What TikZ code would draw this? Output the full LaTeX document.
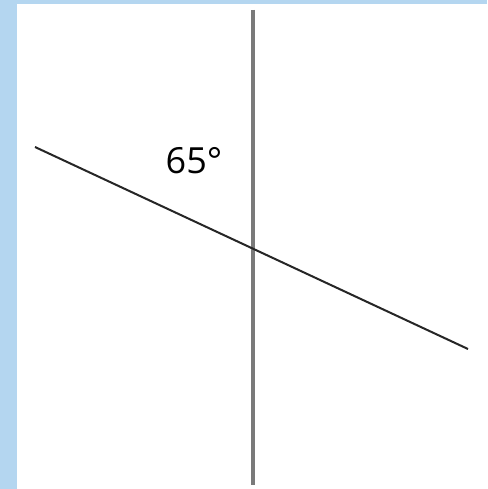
\documentclass[tikz,border=0pt]{standalone}
\usepackage{fontspec}
\setmainfont{Open Sans}
\definecolor{framebl}{HTML}{B4D6F0}
\definecolor{linegr}{HTML}{7A7A7A}
\begin{document}
\begin{tikzpicture}[x=1pt, y=-1pt,
    bar/.style={fill=framebl, draw=none},
    upright/.style={draw=linegr, line width=3.2pt},
    slant/.style={draw=black!85, line width=2pt},
    anglelbl/.style={font=\fontsize{36}{40}\selectfont, inner sep=0pt}]
    % Rahmen
    \useasboundingbox (0,0) rectangle (487,489);
    \fill[white] (0,0) rectangle (487,489);
    \fill[bar] (0,0) rectangle (17,489);
    \fill[bar] (0,0) rectangle (487,4);

    % Punkte
    \coordinate (top) at (253,10);
    \coordinate (bot) at (253,485);
    \coordinate (lft) at (35,147);
    \coordinate (rgt) at (468,349);

    % Geraden
    \draw[upright] (top) -- (bot);
    \draw[slant] (lft) -- (rgt);

    % Winkel
    \node[anglelbl] (ang) at (194,161) {65°};
\end{tikzpicture}
\end{document}
